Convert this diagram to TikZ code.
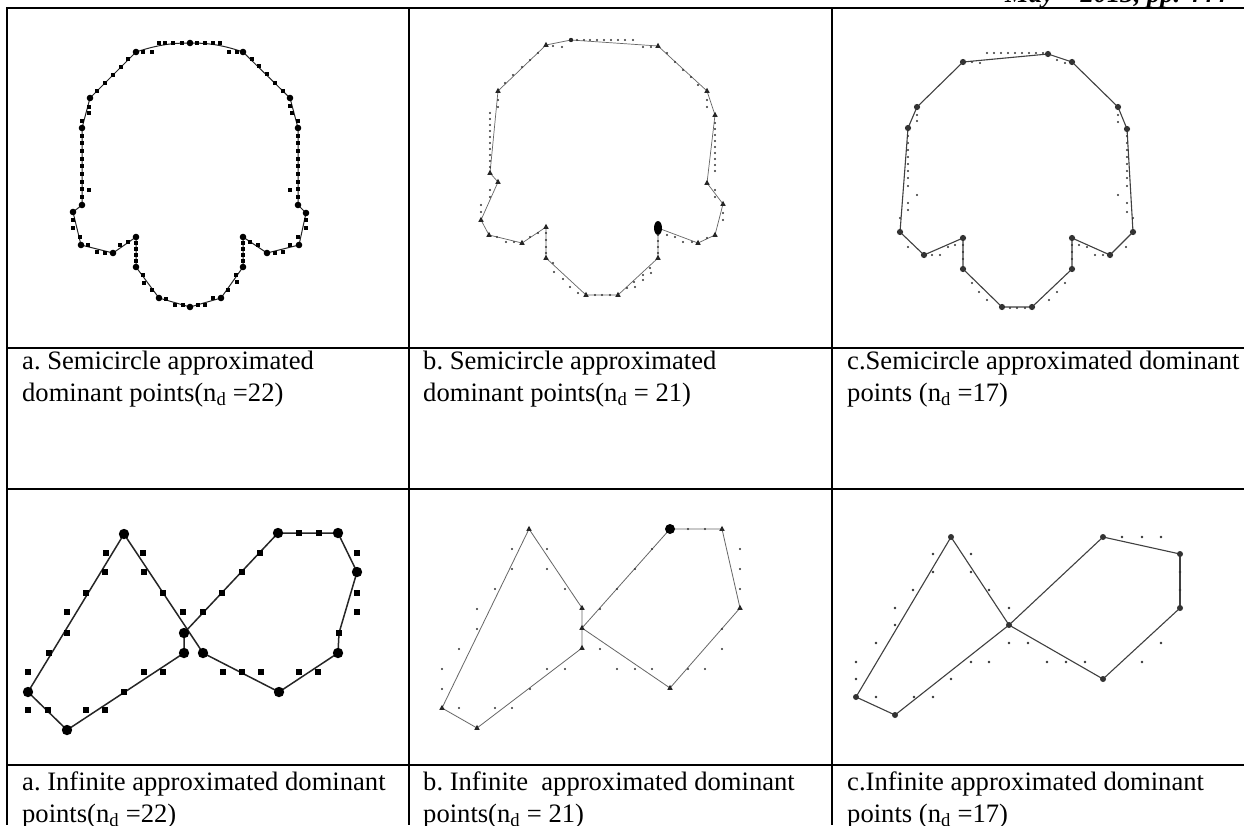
\documentclass[tikz,border=0pt]{standalone}
\usepackage{fontspec}
\setmainfont{Liberation Serif}
\newcommand\capfont{\fontsize{26.6}{32}\selectfont\frenchspacing}
\begin{document}
\begin{tikzpicture}[x=1pt,y=-1pt,
  grid/.style={line width=2pt,black},
  capt/.style={anchor=base west,inner sep=0pt,font=\capfont},
  lineA/.style={line width=1pt,black!85,line join=round},
  lineB/.style={line width=0.7pt,black!60,line join=round},
  lineC/.style={line width=1.1pt,black!75,line join=round},
  lineD/.style={line width=1.5pt,black!85,line join=round},
  lineE/.style={line width=0.8pt,black!60,line join=round},
  lineF/.style={line width=1.1pt,black!75,line join=round}]
\useasboundingbox (0,0) rectangle (1244,825);
\fill[white] (0,0) rectangle (1244,825);
% header (clipped at the top)
\begin{scope}
\clip (0,0) rectangle (1244,825);
\node[anchor=base west,inner sep=0pt,font=\capfont\bfseries\itshape] (hdr) at (1005,2.5) {May -- 2013, pp. 444};
\end{scope}
% table grid
\draw[grid] (7,8) -- (1244,8);
\draw[grid] (7,348) -- (1244,348);
\draw[grid] (7,489) -- (1244,489);
\draw[grid] (7,765) -- (1244,765);
\draw[grid] (7,7) -- (7,825);
\draw[grid] (409,7) -- (409,825);
\draw[grid] (832,7) -- (832,825);
% captions
\node[capt] (ca1) at (22,369) {a. Semicircle approximated};
\node[capt] (ca2) at (22,401) {dominant points(n\textsubscript{d} =22)};
\node[capt] (cb1) at (423,369) {b. Semicircle approximated};
\node[capt] (cb2) at (423,401) {dominant points(n\textsubscript{d} = 21)};
\node[capt] (cc1) at (847,369) {c.Semicircle approximated dominant};
\node[capt] (cc2) at (847,401) {points (n\textsubscript{d} =17)};
\node[capt] (cd1) at (22,790) {a. Infinite approximated dominant};
\node[capt] (cd2) at (22,822) {points(n\textsubscript{d} =22)};
\node[capt] (ce1) at (423,790) {b. Infinite\ \ approximated dominant};
\node[capt] (ce2) at (423,822) {points(n\textsubscript{d} = 21)};
\node[capt] (cf1) at (847,790) {c.Infinite approximated dominant};
\node[capt] (cf2) at (847,822) {points (n\textsubscript{d} =17)};
% ---------------- Panel A ----------------
\foreach \n/\x/\y in {1/190/43,2/243/52,3/290/98,4/298/128,5/298/205,6/306/213,7/299/245,8/267/253,9/243/237,10/243/267,11/221/298,12/190/307,13/159/298,14/136/267,15/136/237,16/113/253,17/81/245,18/73/212,19/82/205,20/82/128,21/90/98,22/136/52}
  \coordinate (A\n) at (\x,\y);
\draw[lineA] (A22) .. controls (160,44) and (175,43) .. (A1) .. controls (205,43) and (220,44) .. (A2) -- (A3)--(A4)--(A5)--(A6)--(A7)--(A8)--(A9)--(A10)--(A11)--(A12)--(A13)--(A14)--(A15)--(A16)--(A17)--(A18)--(A19)--(A20)--(A21)--(A22);
\foreach \n in {1,...,22} \fill (A\n) circle (3.3);
\foreach \x/\y in {159/43,165/43,173/43,182/43,197/43,205/43,213/43,220/43,143/52,152/52,229/52,237/52,
  128/59,121/67,113/75,105/83,97/91,252/59,259/66,267/74,275/83,283/91,
  89/107,89/113,82/121,290/106,292/113,298/121,
  82/136,82/143,82/151,82/159,82/166,82/174,82/182,82/189,82/197,89/190,
  298/136,298/143,298/151,298/159,298/166,298/174,298/182,298/189,298/197,290/190,
  73/220,73/228,80/237,88/245,97/252,105/253,120/245,128/242,
  306/220,306/228,298/237,290/245,283/252,275/253,258/245,250/242,
  136/243,136/249,136/255,136/261,243/243,243/249,243/255,243/261,
  143/275,144/283,152/290,166/299,175/305,183/305,198/305,205/305,213/298,228/290,237/282,236/275}
  \fill[shift={(\x,\y)}] (-1.6,-1.6) rectangle (1.6,1.6);
% ---------------- Panel B ----------------
\foreach \n/\x/\y in {1/571/40,2/658/46,3/707/91,4/715/115,5/707/183,6/723/204,7/715/235,8/698/243,9/658/228,10/658/258,11/618/295,12/586/295,13/546/258,14/546/227,15/522/243,16/489/235,17/481/220,18/498/182,19/490/173,20/498/91,21/546/45}
  \coordinate (B\n) at (\x,\y);
\draw[lineB] (B1)--(B2)--(B3)--(B4)--(B5)--(B6)--(B7)--(B8)--(B9)--(B10)--(B11)--(B12)--(B13)--(B14)--(B15)--(B16)--(B17)--(B18)--(B19)--(B20)--(B21)--cycle;
\foreach \n in {2,3,4,5,6,7,8,10,11,12,13,14,15,16,17,18,19,20,21}
  \fill[black!85,shift={(B\n)}] (0,-3.2) -- (2.7,1.8) -- (-2.7,1.8) -- cycle;
\fill[black!85] (B1) circle (2.2);
\fill (B9) ellipse (4 and 7);
\foreach \x/\y in {577/40,584/40,590/40,597/40,604/40,611/40,618/40,625/40,633/40,553/46,562/47,643/47,651/47,
  505/83,513/75,522/67,530/60,538/53,667/53,675/62,683/70,691/77,698/85,
  707/100,707/107,498/100,498/107,
  490/113,490/119,490/125,490/131,490/137,490/143,490/149,490/155,490/161,490/167,
  715/123,715/129,715/135,715/141,715/147,715/153,715/159,715/165,715/171,
  490/190,490/197,481/205,481/212,715/190,715/197,723/213,723/220,
  497/237,506/242,514/242,530/237,538/233,667/235,675/237,683/242,692/242,707/238,
  546/233,546/240,546/247,546/253,658/235,658/241,658/247,658/253,
  553/263,554/272,563/279,570/287,578/293,595/295,602/295,610/295,
  627/288,634/282,643/275,650/268,635/287,643/280,651/273}
  \fill[black!80] (\x,\y) circle (1.1);
% ---------------- Panel C ----------------
\foreach \n/\x/\y in {1/963/62,2/1048/54,3/1072/62,4/1118/107,5/1127/129,6/1133/232,7/1110/255,8/1072/238,9/1072/269,10/1032/307,11/1002/307,12/963/269,13/963/238,14/924/255,15/900/232,16/908/128,17/917/107}
  \coordinate (C\n) at (\x,\y);
\draw[lineC] (C1)--(C2)--(C3)--(C4)--(C5)--(C6)--(C7)--(C8)--(C9)--(C10)--(C11)--(C12)--(C13)--(C14)--(C15)--(C16)--(C17)--cycle;
\foreach \n in {1,...,17} \fill[black!80] (C\n) circle (3.1);
\foreach \x/\y in {987/53,994/53,1001/53,1008/53,1015/53,1022/53,1029/53,1036/53,1043/53,972/62,980/63,1057/60,1065/63,
  917/115,917/121,1118/115,1118/122,
  908/136,908/143,908/150,908/157,908/164,908/171,908/178,908/186,917/195,908/203,908/210,900/218,
  1127/136,1127/143,1127/150,1127/157,1127/164,1127/171,1127/178,1127/186,1118/195,1127/203,1127/212,1133/218,
  908/247,932/255,940/255,948/247,955/245,1079/245,1087/247,1095/255,1103/255,1126/247,
  963/245,963/252,963/259,1072/245,1072/252,1072/259,
  972/283,979/292,987/300,1010/308,1017/308,1025/308,1049/300,1057/292,1065/283}
  \fill[black!80] (\x,\y) circle (1.1);
% ---------------- Panel D ----------------
\foreach \n/\x/\y in {1/28/692,2/124/534,3/203/653,4/279/692,5/338/653,6/339/633,7/357/572,8/338/533,9/278/533,10/184/633,11/184/653,12/67/730}
  \coordinate (D\n) at (\x,\y);
\draw[lineD] (D1)--(D2)--(D3)--(D4)--(D5)--(D6)--(D7)--(D8)--(D9)--(D10)--(D11)--(D12)--cycle;
\foreach \n in {1,2,3,4,5,7,8,9,10,11,12} \fill (D\n) circle (5.2);
\foreach \x/\y in {28/672,49/653,67/633,67/612,86/593,105/572,106/553,
  143/553,144/572,163/593,183/612,
  203/612,222/593,242/572,260/553,
  299/533,319/533,357/553,357/593,357/612,339/633,
  318/672,299/672,223/672,242/672,261/672,
  144/672,163/672,124/692,105/710,86/710,48/710,28/710}
  \fill[shift={(\x,\y)}] (-3,-3) rectangle (3,3);
% ---------------- Panel E ----------------
\foreach \n/\x/\y in {1/442/708,2/529/529,3/582/608,4/582/628,5/670/688,6/740/608,7/722/529,8/670/529,10/582/648,11/477/728}
  \coordinate (E\n) at (\x,\y);
\draw[lineE] (E1)--(E2)--(E3)--(E4)--(E5)--(E6)--(E7)--(E8)--(E4)--(E10)--(E11)--cycle;
\foreach \n in {1,2,3,4,5,6,7,10,11}
  \fill[black!85,shift={(E\n)}] (0,-3.2) -- (2.7,1.8) -- (-2.7,1.8) -- cycle;
\fill (E8) circle (5);
\foreach \x/\y in {512/549,512/569,547/549,547/569,495/589,565/589,477/609,477/629,459/649,442/669,442/689,
  459/708,495/708,512/708,530/689,547/669,565/669,600/649,600/609,617/589,635/569,652/549,
  688/529,705/529,740/549,740/569,740/589,722/629,722/649,705/669,688/669,652/669,635/669,617/669}
  \fill[black!80] (\x,\y) circle (1.2);
% ---------------- Panel F ----------------
\foreach \n/\x/\y in {1/856/697,2/951/537,3/1009/625,4/1103/679,5/1180/608,6/1180/554,7/1103/537,8/895/715}
  \coordinate (F\n) at (\x,\y);
\draw[lineF] (F1)--(F2)--(F3)--(F4)--(F5)--(F6)--(F7)--(F3)--(F8)--cycle;
\draw[line width=2pt,black!75] (F5)--(F6);
\foreach \n in {1,...,8} \fill[black!80] (F\n) circle (3);
\foreach \x/\y in {933/554,933/572,971/554,971/572,913/590,989/590,895/608,895/625,876/643,856/662,856/679,
  876/697,914/697,933/697,951/679,971/662,989/662,1009/608,1009/643,1028/643,1047/662,1066/662,1085/662,
  1122/537,1142/537,1161/537,1180/572,1180/590,1161/643,1142/662}
  \fill[black!80] (\x,\y) circle (1.3);
\end{tikzpicture}
\end{document}
